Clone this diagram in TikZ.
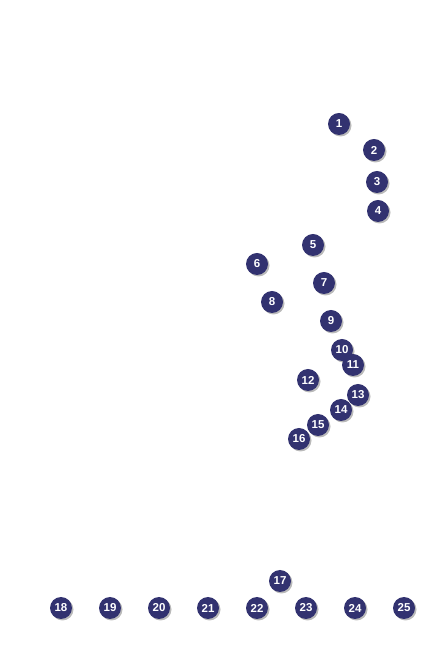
\documentclass[tikz,border=0pt]{standalone}
\usepackage{fontspec}
\setmainfont{Liberation Sans}
\usetikzlibrary{shadows}
\definecolor{navy}{RGB}{50,50,112}
\tikzset{
  marker/.style={circle, fill=navy, minimum size=22pt, inner sep=0pt,
    text=white, font=\fontsize{11.5}{12}\selectfont\bfseries,
    drop shadow={shadow xshift=1.5pt, shadow yshift=-1.5pt, fill=black!45, opacity=0.6}}
}
\begin{document}
\begin{tikzpicture}[x=1pt,y=1pt]
\useasboundingbox (0,0) rectangle (433,650);
\foreach \n/\x/\y in {1/339/124, 2/374/150, 3/377/182, 4/378/211, 5/313/245,
  6/257/264, 7/324/283, 8/272/302, 9/331/321, 10/342/350, 11/353/365,
  12/308/380, 13/358/395, 14/341/410, 15/318/425, 16/299/439, 17/280/581,
  18/61/608, 19/110/608, 20/159/608, 21/208/608, 22/257/608, 23/306/608,
  24/355/608, 25/404/608}
  \node[marker] (n\n) at (\x,650-\y) {\n};
\end{tikzpicture}
\end{document}
